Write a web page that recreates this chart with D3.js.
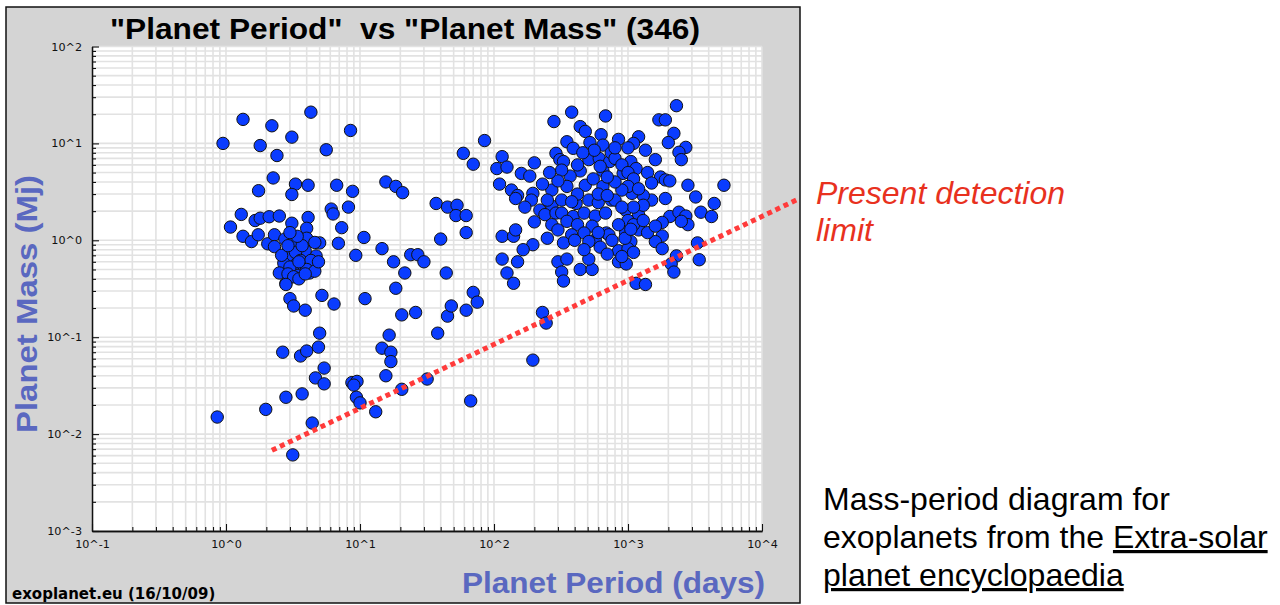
<!DOCTYPE html>
<html><head><meta charset="utf-8">
<script src="https://cdn.jsdelivr.net/npm/d3@7"></script>
<style>body{margin:0;background:#fff}svg{display:block}</style>
</head><body><svg id="c" width="1280" height="605"></svg>
<script>
// [period (days), mass (Mj)]
const planets = [
[0.95,10],[1.34,17.7],[2.2,15.2],[4.3,21],[8.5,13.6],[1.8,9.5],[3.1,11.6],[2.4,7.5],[5.6,8.6],[2.25,4.4],
[3.3,3.8],[4.1,3.7],[6.7,3.7],[8.8,3.2],[15.6,4.0],[1.75,3.25],[3.1,2.97],[6.1,2.1],[6.3,1.87],[8.2,2.2],
[7.3,1.35],[6.9,0.93],[10.7,1.07],[9.3,0.7],[14.6,0.82],[1.3,1.85],[1.08,1.37],[1.34,1.1],[1.55,0.97],[1.65,1.6],
[1.8,1.69],[2.1,1.75],[2.5,1.78],[1.74,1.14],[2.05,0.92],[2.3,1.14],[2.75,1.03],[3.1,1.5],[4.1,1.72],[4.0,1.33],
[4.0,1.05],[5.0,0.94],[4.7,0.69],[3.9,0.78],[3.15,0.86],[2.3,0.86],[3.0,0.68],[2.7,0.58],[2.5,0.46],[2.8,0.36],
[3.5,0.5],[3.6,0.48],[4.2,0.46],[4.4,0.53],[3.4,0.58],[3.0,0.53],[3.2,0.95],[3.3,0.75],[3.6,0.62],[3.8,0.55],
[4.3,0.62],[2.9,0.45],[3.2,0.42],[3.5,0.4],[4.0,0.5],[4.6,0.48],[3.7,0.88],[2.6,0.7],[3.4,1.1],[3.0,1.2],
[2.9,0.88],[4.6,0.95],[3.5,0.6],[3.9,0.45],[4.9,0.6],
[2.8,0.35],[3.0,0.25],[3.2,0.21],[3.9,0.19],[5.2,0.27],[6.4,0.22],[10.9,0.25],[5.0,0.11],[2.65,0.07],[3.6,0.064],
[4.0,0.072],[4.9,0.079],[5.4,0.048],[4.65,0.038],[5.4,0.033],[2.8,0.024],[3.7,0.026],[1.98,0.018],[0.86,0.015],[4.4,0.013],
[3.15,0.0061],[8.7,0.034],[9.5,0.035],[9.0,0.032],[9.4,0.024],[10,0.021],[13.1,0.017],[14.6,0.077],[16.5,0.105],[15.6,0.04],
[85,10.7],[59,7.9],[70,6.1],[18.5,3.6],[20.8,3.1],[37,2.4],[45,2.2],[53,2.3],[52,1.8],[62,1.8],
[40,1.03],[62,1.2],[17.8,0.6],[21.6,0.46],[23.9,0.71],[27,0.71],[30,0.6],[44,0.46],[18.5,0.32],[20.5,0.17],
[26,0.18],[45,0.165],[48,0.21],[62,0.19],[70,0.29],[75,0.23],[38,0.11],[17,0.07],[17,0.056],[20.5,0.029],
[31.7,0.037],[67,0.022],[195,0.058],[230,0.18],[245,0.14],
[280,16.8],[380,21],[680,19.2],[440,14.9],[480,13.3],[630,12.3],[850,11],[350,10.4],[390,8.9],[520,10.2],
[650,9.6],[290,7.9],[310,6.8],[200,6.3],[115,7.3],[105,5.5],[125,5.7],[160,4.9],[185,4.6],[330,6.5],
[510,6.8],[610,7.0],[730,6.5],[650,5.2],[440,5.2],[370,4.6],[320,5.3],[110,3.8],[135,3.3],[150,2.9],
[195,3.05],[270,3.3],[350,3.6],[480,3.7],[650,3.6],[145,2.7],[190,2.6],[220,2.05],[270,2.25],[320,2.6],
[410,2.4],[510,2.6],[600,2.45],[750,2.6],[240,1.84],[290,1.91],[320,1.91],[390,1.76],[470,1.91],[570,1.78],
[680,1.91],[270,1.45],[350,1.57],[420,1.45],[540,1.4],[690,1.19],[300,1.28],[380,1.14],[470,1.19],[570,1.01],
[330,0.94],[510,0.97],[115,1.1],[140,1.1],[145,1.28],[195,0.9],[165,0.8],[115,0.64],[150,0.6],[125,0.46],
[140,0.36],[300,0.6],[350,0.64],[320,0.47],[330,0.38],[440,0.5],[540,0.5],[510,0.64],[850,0.6],
[2300,24.5],[1700,17.5],[1900,17.5],[2200,12.7],[2000,10.2],[1200,11.7],[1100,10],[2700,9.1],[2400,8.1],[2500,6.8],
[1600,6.8],[1050,6.5],[1150,5.5],[920,4.9],[1750,4.5],[1900,4.2],[2050,4.1],[2800,3.7],[5200,3.7],[3200,2.8],
[1900,2.7],[1500,2.6],[1300,2.9],[1070,3.05],[800,2.6],[4400,2.4],[3500,1.95],[4200,1.76],[2050,1.76],[2400,1.95],
[2700,1.78],[2800,1.45],[2500,1.57],[1800,1.53],[1200,1.84],[960,2.05],[1800,1.11],[1600,0.97],[1200,1.28],[960,1.2],
[720,1.14],[1050,0.97],[1800,0.82],[2300,0.69],[2100,0.57],[2200,0.47],[3300,0.94],[3400,0.63],[850,0.78],[1000,0.82],
[970,0.57],[1150,0.36],[1350,0.35],
[750,8],[800,7],[900,6],[1000,5],[1100,4.3],[1000,3.6],[900,3.3],[800,4],[700,4.5],[1200,3.4],
[1300,2.3],[1100,2.2],[900,2.2],[1000,1.6],[850,1.45],[1100,1.45],[1300,1.6],[950,1.05],[1050,1.3],[1400,1.2],
[760,1.0],[620,0.85],[700,0.72],[900,0.68],[1100,0.75],[600,3],[550,4.3],[700,2.9],[620,5.8],[420,6],
[420,3],[380,2.5],[250,2.6],[230,3.8],[300,4.1],[260,5],[1400,5],[1500,3.9],[1350,8.5],[1000,9],
[800,9],[560,8.5],[460,8],[600,1.2],[470,0.8],[400,1.0],[250,1.05],[200,1.55],[170,2.2],[1600,1.4]
];
const xTickLabels = ["10^-1","10^0","10^1","10^2","10^3","10^4"];
const yTickLabels = ["10^-3","10^-2","10^-1","10^0","10^1","10^2"];
const xMajor = [0.1,1,10,100,1000,10000];
const yMajor = [0.001,0.01,0.1,1,10,100];
const detectionLimit = [[2.2,0.0068],[18000,2.6]];
const titleText = '"Planet Period"  vs "Planet Mass" (346)';
const xTitle = "Planet Period (days)";
const yTitle = "Planet Mass (Mj)";
const footerText = "exoplanet.eu (16/10/09)";
const noteLines = ["Present detection","limit"];
const captionLines = [["Mass-period diagram for",""],["exoplanets from the ","Extra-solar"],["","planet encyclopaedia"]];

const svg = d3.select("#c");
const L=92,R=762,T=46.5,B=531;
const x = d3.scaleLog().domain([0.1,10000]).range([L,R]);
const y = d3.scaleLog().domain([0.001,100]).range([B,T]);

// grey panel
svg.append("rect").attr("x",6).attr("y",7).attr("width",794).attr("height",596)
  .attr("fill","#d4d4d4").attr("stroke","#111").attr("stroke-width",1.5);
svg.append("rect").attr("x",L).attr("y",T).attr("width",R-L).attr("height",B-T).attr("fill","#fff");

// grid
const g = svg.append("g");
g.selectAll("line.gx").data(x.ticks()).join("line")
  .attr("x1",d=>x(d)).attr("x2",d=>x(d)).attr("y1",T).attr("y2",B)
  .attr("stroke","#e2e2e2").attr("stroke-width",1.6);
g.selectAll("line.gy").data(y.ticks()).join("line")
  .attr("y1",d=>y(d)).attr("y2",d=>y(d)).attr("x1",L).attr("x2",R)
  .attr("stroke","#e2e2e2").attr("stroke-width",1.6);

// axes
const fmtX = d => xTickLabels[xMajor.indexOf(d)];
const fmtY = d => yTickLabels[yMajor.indexOf(d)];
const minorX = x.ticks().filter(d=>xMajor.indexOf(d)<0);
const minorY = y.ticks().filter(d=>yMajor.indexOf(d)<0);
function styleAxis(s){ s.select(".domain").attr("stroke","#111").attr("stroke-width",1.3);
  s.selectAll(".tick line").attr("stroke","#111").attr("stroke-width",1.1);
  s.selectAll("text").attr("font-family","DejaVu Sans, Verdana, sans-serif").attr("font-size",11.2).attr("fill","#111"); }
svg.append("g").attr("transform",`translate(0,${B})`)
  .call(d3.axisBottom(x).tickValues(minorX).tickSizeInner(-4).tickSizeOuter(0).tickFormat(""))
  .call(styleAxis);
svg.append("g").attr("transform",`translate(0,${B})`)
  .call(d3.axisBottom(x).tickValues(xMajor).tickSizeInner(-7).tickSizeOuter(0).tickPadding(9).tickFormat(fmtX))
  .call(styleAxis);
svg.append("g").attr("transform",`translate(${L},0)`)
  .call(d3.axisLeft(y).tickValues(minorY).tickSizeInner(-4).tickSizeOuter(0).tickFormat(""))
  .call(styleAxis);
svg.append("g").attr("transform",`translate(${L},0)`)
  .call(d3.axisLeft(y).tickValues(yMajor).tickSizeInner(-7).tickSizeOuter(0).tickPadding(10).tickFormat(fmtY))
  .call(styleAxis);

// points
svg.append("g").selectAll("circle").data(planets).join("circle")
  .attr("cx",d=>x(d[0])).attr("cy",d=>y(d[1])).attr("r",6.2)
  .attr("fill","#0a3cff").attr("stroke","#111").attr("stroke-width",1);

// detection limit
svg.append("path").datum(detectionLimit)
  .attr("d",d3.line().x(d=>x(d[0])).y(d=>y(d[1])))
  .attr("stroke","#ff3b3b").attr("stroke-width",5).attr("stroke-dasharray","5,4").attr("fill","none");

// titles
svg.append("text").attr("x",405).attr("y",39).attr("text-anchor","middle")
  .attr("font-family","Liberation Sans, Arial, sans-serif").attr("font-weight","bold").attr("font-size",29)
  .attr("textLength",590).attr("lengthAdjust","spacingAndGlyphs")
  .style("white-space","pre").attr("fill","#000").text(titleText);
svg.append("text").attr("x",765).attr("y",593).attr("text-anchor","end")
  .attr("font-family","Liberation Sans, Arial, sans-serif").attr("font-weight","bold").attr("font-size",29)
  .attr("textLength",303).attr("lengthAdjust","spacingAndGlyphs")
  .attr("fill","#5a68c0").text(xTitle);
svg.append("text").attr("transform","translate(37,304) rotate(-90)").attr("text-anchor","middle")
  .attr("font-family","Liberation Sans, Arial, sans-serif").attr("font-weight","bold").attr("font-size",29)
  .attr("textLength",258).attr("lengthAdjust","spacingAndGlyphs")
  .attr("fill","#5a68c0").text(yTitle);
svg.append("text").attr("x",12).attr("y",599)
  .attr("font-family","DejaVu Sans, Tahoma, sans-serif").attr("font-weight","bold").attr("font-size",15)
  .attr("fill","#000").text(footerText);

// annotations
svg.append("g").selectAll("text").data(noteLines).join("text")
  .attr("x",816).attr("y",(d,i)=>204+i*37)
  .attr("font-family","Liberation Sans, Arial, sans-serif").attr("font-style","italic").attr("font-size",32)
  .attr("fill","#e8311e").text(d=>d);
const cap = svg.append("g");
captionLines.forEach((ln,i)=>{
  const t = cap.append("text").attr("x",823).attr("y",510+i*38)
    .attr("font-family","Liberation Sans, Arial, sans-serif").attr("font-size",32).attr("fill","#000");
  t.append("tspan").style("white-space","pre").text(ln[0]);
  t.append("tspan").attr("text-decoration","underline").text(ln[1]);
});
</script></body></html>
